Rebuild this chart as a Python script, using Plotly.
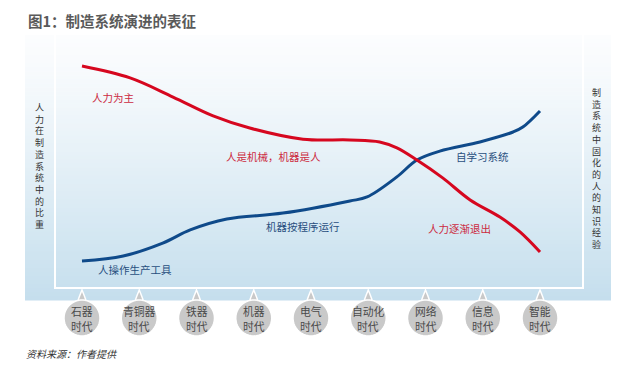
import math
import plotly.graph_objects as go

# ---------------- data ----------------
eras = ["石器", "青铜器", "铁器", "机器", "电气", "自动化", "网络", "信息", "智能"]
era_suffix = "时代"

# share of human labour in the manufacturing system (red)
human_x = [0, 0.84, 1.59, 2.29, 2.93, 3.86, 4.68, 5.2, 5.5, 5.85, 6.3, 6.78, 7.3, 7.65, 8]
human_y = [89.5, 84.7, 77, 69.4, 64.5, 60, 59.7, 58.9, 56.5, 51.6, 44.4, 35.5, 28.6, 22.6, 14.5]

# human knowledge embedded in the manufacturing system (blue)
knowledge_x = [0, 0.72, 1.41, 1.89, 2.53, 3.51, 4.68, 4.98, 5.5, 5.85, 6.25, 6.95, 7.53, 7.7, 8]
knowledge_y = [10.9, 12.9, 18.1, 23.4, 27.8, 30.2, 35.1, 36.7, 44.8, 51.6, 55.2, 58.9, 62.9, 64.9, 71.4]

red_labels = ["人力为主", "人是机械，机器是人", "人力逐渐退出"]
blue_labels = ["人操作生产工具", "机器按程序运行", "自学习系统"]

title_text = "图1：制造系统演进的表征"
left_title = "人力在制造系统中的比重"
right_title = "制造系统中固化的人的知识经验"
source_text = "资料来源：作者提供"

# ---------------- layout helpers ----------------
W, H = 638, 370
FONT = "Noto Sans CJK SC"


def px(x):
    return x / W


def py(y):
    return 1 - y / H


RED = "#d6071f"
RED_TXT = "#cc2a40"
BLUE = "#0f4a8a"
BLUE_TXT = "#284f7e"

fig = go.Figure()
fig.add_trace(go.Scatter(x=knowledge_x, y=knowledge_y, mode="lines",
                         line=dict(color=BLUE, width=3, shape="spline", smoothing=1.0),
                         hoverinfo="skip", showlegend=False))
fig.add_trace(go.Scatter(x=human_x, y=human_y, mode="lines",
                         line=dict(color=RED, width=3, shape="spline", smoothing=1.0),
                         hoverinfo="skip", showlegend=False))

shapes = []
# gradient panel
top, bot = 35, 300
n = 66
step = (bot - top) / n
c0 = (252, 253, 254)
c1 = (196, 222, 237)
for i in range(n):
    t = (i + 0.5) / n
    t = t ** 1.2
    c = tuple(round(c0[k] + (c1[k] - c0[k]) * t) for k in range(3))
    shapes.append(dict(type="rect", xref="paper", yref="paper",
                       x0=px(25), x1=px(611), y0=py(top + i * step), y1=py(top + (i + 1) * step + 0.6),
                       line=dict(width=0), fillcolor="rgb(%d,%d,%d)" % c, layer="below"))
# inner white frame
shapes.append(dict(type="rect", xref="paper", yref="paper",
                   x0=px(55), x1=px(583), y0=py(288), y1=py(34),
                   line=dict(color="white", width=2), fillcolor="rgba(0,0,0,0)", layer="below"))

# bubbles (circle + pointer tip), in pixel units relative to anchor
R = 18
pts = []
a_start = math.radians(103)
a_end = math.radians(77 - 360)
m = 48
for k in range(m + 1):
    a = a_start + (a_end - a_start) * k / m
    pts.append((R * math.cos(a), R * math.sin(a)))
path = "M %.2f,%.2f " % pts[0]
for p in pts[1:]:
    path += "L %.2f,%.2f " % p
path += "Q 2.5,22 0,28 Q -2.5,22 %.2f,%.2f Z" % pts[0]

annotations = []
for i, e in enumerate(eras):
    shapes.append(dict(type="path", xref="x", yref="paper", xsizemode="pixel", ysizemode="pixel",
                       xanchor=i, yanchor=py(318), path=path,
                       fillcolor="#c9c9c9", line=dict(color="white", width=1.5), layer="above"))
    for line_txt, yy in ((e, 310.5), (era_suffix, 325.5)):
        annotations.append(dict(x=i, y=py(yy), xref="x", yref="paper", showarrow=False,
                                xanchor="center", yanchor="middle", text=line_txt,
                                font=dict(family=FONT, size=10.8, color="#4a4a4a")))

# curve labels
red_pos = [(0.54, 77.0), (3.34, 53.2), (6.6, 23.8)]
blue_pos = [(0.93, 7.3), (3.86, 24.6), (7.0, 53.2)]
for txt, (x, y) in zip(red_labels, red_pos):
    annotations.append(dict(x=x, y=y, xref="x", yref="y", showarrow=False, text=txt,
                            xanchor="center", yanchor="middle",
                            font=dict(family=FONT, size=10.5, color=RED_TXT)))
for txt, (x, y) in zip(blue_labels, blue_pos):
    annotations.append(dict(x=x, y=y, xref="x", yref="y", showarrow=False, text=txt,
                            xanchor="center", yanchor="middle",
                            font=dict(family=FONT, size=10.5, color=BLUE_TXT)))

# vertical side titles (stacked characters)
annotations.append(dict(x=px(39), y=py(166), xref="paper", yref="paper", showarrow=False,
                        text="<br>".join(left_title), xanchor="center", yanchor="middle",
                        align="center", font=dict(family=FONT, size=9, color="#333333")))
annotations.append(dict(x=px(596), y=py(168), xref="paper", yref="paper", showarrow=False,
                        text="<br>".join(right_title), xanchor="center", yanchor="middle",
                        align="center", font=dict(family=FONT, size=9, color="#333333")))

# title and source
annotations.append(dict(x=px(26), y=py(20), xref="paper", yref="paper", showarrow=False,
                        xanchor="left", yanchor="middle", text="<b>" + title_text + "</b>",
                        font=dict(family=FONT, size=14.5, color="#5a5a5a")))
annotations.append(dict(x=px(24), y=py(353), xref="paper", yref="paper", showarrow=False,
                        xanchor="left", yanchor="middle", text=source_text,
                        font=dict(family=FONT, size=10, color="#333333", style="italic")))

fig.update_layout(
    width=W, height=H,
    margin=dict(l=0, r=0, t=0, b=0),
    paper_bgcolor="white", plot_bgcolor="rgba(0,0,0,0)",
    shapes=shapes, annotations=annotations,
    xaxis=dict(domain=[px(55), px(583)], range=[-0.4716, 8.751], visible=False, fixedrange=True),
    yaxis=dict(domain=[py(288), py(40)], range=[0, 100], visible=False, fixedrange=True),
    showlegend=False,
)

fig.write_html("out.html", config={"displayModeBar": False},
               post_script="document.body.style.margin='0';document.body.style.overflow='hidden';")
